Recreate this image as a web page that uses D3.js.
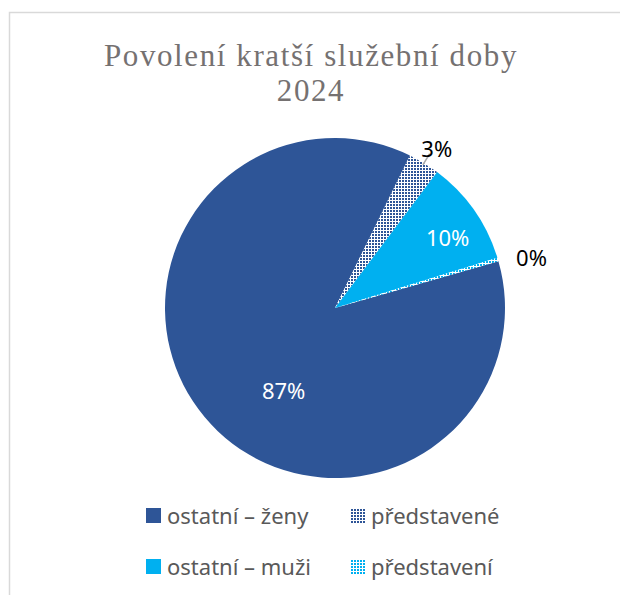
<!DOCTYPE html>
<html>
<head>
<meta charset="utf-8">
<script src="https://cdn.jsdelivr.net/npm/d3@7"></script>
<style>
  body { margin: 0; background: #fff; }
</style>
</head>
<body>
<svg class="chart__svg" width="620" height="595"></svg>
<script>
// categories and counts
const categories = ['ostatní – ženy', 'představené', 'ostatní – muži', 'představení'];
const counts = [261, 9, 30, 1];
const titleLines = ['Povolení kratší služební doby', '2024'];

const svg = d3.select('.chart__svg');

// chart frame
svg.append('rect')
    .attr('x', 9.5).attr('y', 12.5)
    .attr('width', 800).attr('height', 800)
    .attr('fill', '#fff')
    .attr('stroke', '#d9d9d9')
    .attr('stroke-width', 1.5);

// small grid patterns for the hatched slices
const defs = svg.append('defs');
function grid(id, fg) {
    const p = defs.append('pattern')
        .attr('id', id)
        .attr('patternUnits', 'userSpaceOnUse')
        .attr('width', 3).attr('height', 3);
    p.append('rect').attr('width', 3).attr('height', 3).attr('fill', '#fff');
    p.append('rect').attr('x', 1).attr('y', 1).attr('width', 2).attr('height', 2).attr('fill', fg);
}
grid('pat-dark', '#2e5597');
grid('pat-light', '#00b0f0');

const fills = ['#2e5597', 'url(#pat-dark)', '#00b0f0', 'url(#pat-light)'];
const color = d3.scaleOrdinal().domain(categories).range(fills);

// title
svg.append('text')
    .attr('text-anchor', 'middle')
    .attr('font-family', '"Liberation Serif", "Times New Roman", serif')
    .attr('font-size', 31)
    .attr('letter-spacing', 1.6)
    .attr('fill', '#757171')
    .selectAll('tspan')
    .data(titleLines)
    .join('tspan')
    .attr('x', 311)
    .attr('y', (d, i) => 66 + i * 35)
    .text(d => d);

// pie
const cx = 335, cy = 308, r = 170;
const total = d3.sum(counts);
const start = 74 * Math.PI / 180;
const pie = d3.pie()
    .sort(null)
    .value(d => d.value)
    .startAngle(start)
    .endAngle(start + 2 * Math.PI);
const arcs = pie(categories.map((c, i) => ({ name: c, value: counts[i] })));
const arc = d3.arc().innerRadius(0).outerRadius(r);

const g = svg.append('g').attr('transform', `translate(${cx},${cy})`);

g.selectAll('.path__slice')
    .data(arcs)
    .join('path')
    .attr('class', 'path__slice')
    .attr('d', arc)
    .attr('fill', d => color(d.data.name));

// data label placement: [angle in degrees clockwise from 12 o'clock, radius]
const labelPlace = [[212, 97], [32.4, 190], [57.9, 133], [75.5, 203]];
const pct = d => Math.round(d.value / total * 100) + '%';
const rad = deg => deg * Math.PI / 180;

// leader line for the 3% slice
const mid3 = (arcs[1].startAngle + arcs[1].endAngle) / 2;
g.append('line')
    .attr('x1', Math.sin(mid3) * (r - 2))
    .attr('y1', -Math.cos(mid3) * (r - 2))
    .attr('x2', Math.sin(mid3) * (r + 11))
    .attr('y2', -Math.cos(mid3) * (r + 11))
    .attr('stroke', '#a6a6a6')
    .attr('stroke-width', 1.5);

g.selectAll('.label')
    .data(arcs)
    .join('text')
    .attr('class', 'label')
    .attr('text-anchor', 'middle')
    .attr('dominant-baseline', 'central')
    .attr('font-family', '"Noto Sans", "Open Sans", sans-serif')
    .attr('font-size', 22)
    .attr('fill', (d, i) => labelPlace[i][1] < r ? '#fff' : '#000')
    .attr('x', (d, i) => Math.sin(rad(labelPlace[i][0])) * labelPlace[i][1])
    .attr('y', (d, i) => -Math.cos(rad(labelPlace[i][0])) * labelPlace[i][1])
    .text(d => pct(d.data));

// legend, two columns
const legend = svg.append('g')
    .selectAll('g')
    .data(categories)
    .join('g')
    .attr('transform', (d, i) => `translate(${146 + (i % 2) * 204},${508 + Math.floor(i / 2) * 51})`);

legend.append('rect')
    .attr('width', 15).attr('height', 15)
    .attr('fill', d => color(d));

legend.append('text')
    .attr('x', 21)
    .attr('y', 7)
    .attr('dominant-baseline', 'central')
    .attr('font-family', '"Noto Sans", "Open Sans", sans-serif')
    .attr('font-size', 22)
    .attr('fill', '#595959')
    .text(d => d);
</script>
</body>
</html>
